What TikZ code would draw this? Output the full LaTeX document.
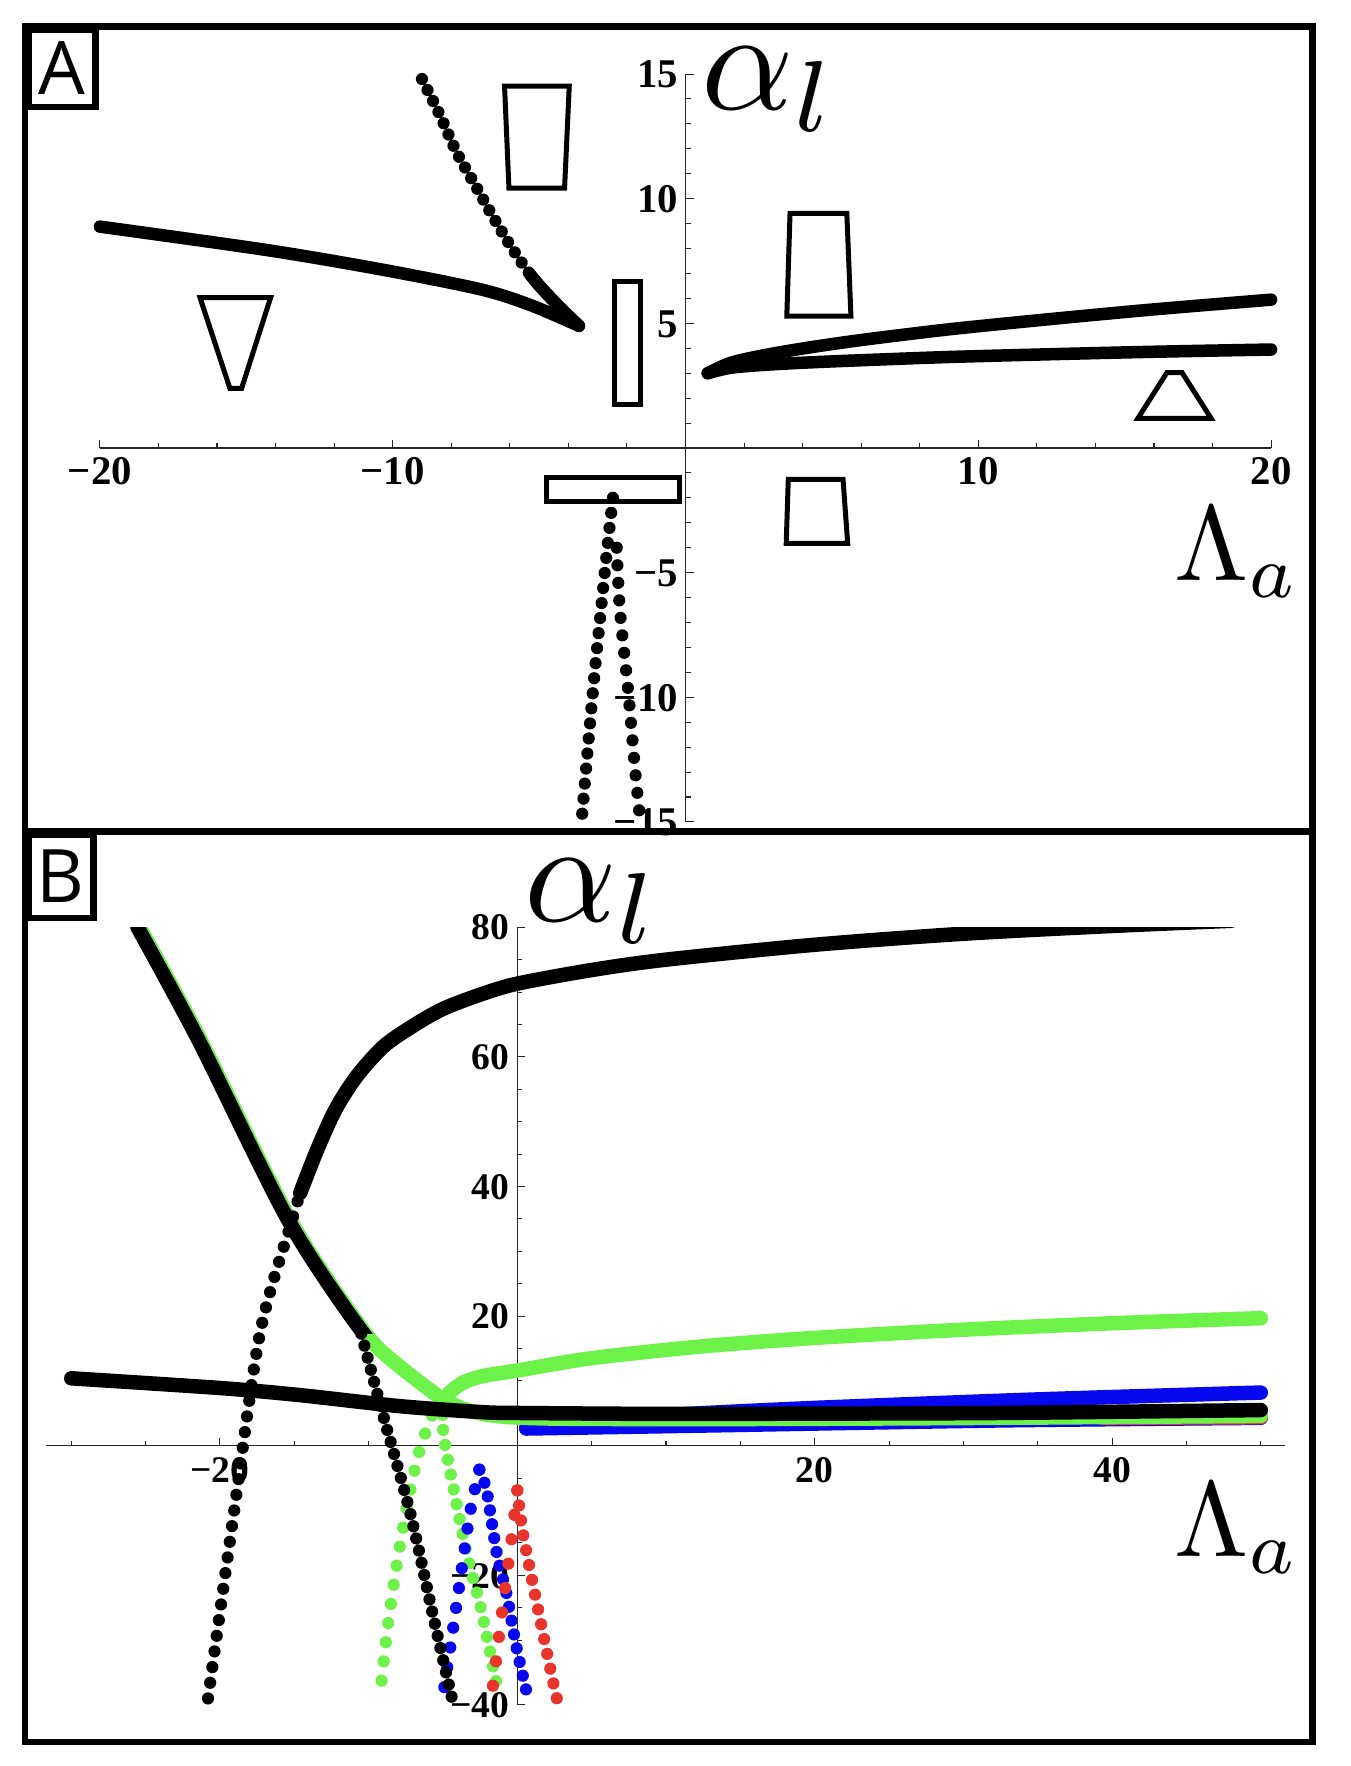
\documentclass[tikz,border=0pt]{standalone}
\usepackage{graphicx}
\usepackage[no-math]{fontspec}
\newfontfamily\tickfont{Liberation Serif}
\newfontfamily\panelfont{Open Sans}
\usetikzlibrary{positioning}
\definecolor{plotgreen}{RGB}{108,242,72}
\definecolor{plotblue}{RGB}{8,8,238}
\definecolor{plotred}{RGB}{232,52,42}

\begin{document}
\begin{tikzpicture}[
  frameline/.style={line width=0.65mm},
  axisline/.style={line width=0.3pt, black!85},
  panellabel/.style={draw, fill=white, line width=0.65mm, inner sep=0pt, anchor=north west, font=\panelfont\fontsize{21}{21}\selectfont},
  ticklblA/.style={inner sep=0pt, font=\tickfont\bfseries\fontsize{11.6}{12}\selectfont},
  ticklblB/.style={inner sep=0pt, font=\tickfont\bfseries\fontsize{10.7}{11}\selectfont},
  alphalbl/.style={inner sep=0pt, anchor=base west},
  lambdalbl/.style={inner sep=0pt, anchor=base west},
  thickA/.style={line width=1.25mm, line cap=round, line join=round},
  dotsA/.style={line width=1.22mm, line cap=round, dash pattern=on 0pt off #1},
  thickB/.style={line width=1.45mm, line cap=round, line join=round},
  dotsB/.style={line width=1.22mm, line cap=round, dash pattern=on 0pt off #1},
  region/.style={line width=0.5mm, line join=miter}]
\useasboundingbox (0,0) rectangle (13.5,17.66);

\begin{scope}[shift={(6.855,13.18)}, x=0.2928cm, y=0.2493cm]
\draw[axisline] (-20,0) -- (20,0);
\draw[axisline] (0,-15) -- (0,15);
\foreach \t in {-20,-18,...,20} \draw[axisline] (\t,0) -- ++(0,0.05cm);
\foreach \t in {-20,-10,10,20} \draw[axisline] (\t,0) -- ++(0,0.08cm);
\foreach \t in {-15,...,15} \draw[axisline] (0,\t) -- ++(0.05cm,0);
\foreach \t in {-15,-10,...,15} \draw[axisline] (0,\t) -- ++(0.08cm,0);
\foreach \t/\s [count=\i] in {-20/−20,-10/−10,10/10,20/20}
  \node[ticklblA, anchor=base, yshift=-0.37cm] (xtickA\i) at (\t,0) {\s};
\foreach \t/\s [count=\i] in {-15/−15,-10/−10,-5/−5,5/5,10/10,15/15}
  \node[ticklblA, anchor=base east, xshift=-0.07cm, yshift=-0.138cm] (ytickA\i) at (0,\t) {\s};

\draw[thickA] plot[smooth] coordinates {(-20,8.88) (-14.3,7.94) (-10.43,7.17) (-7.02,6.37) (-5.31,5.74) (-3.64,4.9)};
\draw[dotsA=3.5pt] plot[smooth] coordinates {(-9.0,14.8) (-8.39,13.36) (-7.83,11.89) (-7.22,10.62) (-6.64,9.41) (-6.03,8.21) (-5.42,7.14) (-4.96,6.47)};
\draw[thickA] plot[smooth] coordinates {(-5.3,6.95) (-4.96,6.47) (-4.3,5.65) (-3.64,4.9)};
\draw[thickA] plot[smooth] coordinates {(0.76,3.0) (1.5,3.40) (2.5,3.68) (4,3.99) (6,4.33) (9,4.76) (12.45,5.17) (16,5.56) (20,5.95)};
\draw[thickA] plot[smooth] coordinates {(0.76,3.0) (1.5,3.21) (2.5,3.32) (4,3.42) (6,3.52) (9,3.65) (12.45,3.76) (16,3.86) (20,3.95)};
\draw[dotsA=4.3pt] plot[smooth] coordinates {(-2.48,-2.0) (-2.72,-4.56) (-3.15,-9.6) (-3.53,-14.7)};
\draw[dotsA=5pt] plot[smooth] coordinates {(-2.35,-4.0) (-2.24,-6.5) (-1.97,-9.6) (-1.73,-12.8) (-1.56,-14.8)};

\draw[region] (-6.18,14.52) -- (-3.97,14.52) -- (-4.13,10.42) -- (-6.03,10.42) -- cycle;
\draw[region] (-16.58,6.03) -- (-14.17,6.03) -- (-15.16,2.39) -- (-15.56,2.39) -- cycle;
\draw[region] (-2.41,6.66) rectangle (-1.52,1.76);
\draw[region] (-4.76,-1.20) rectangle (-0.22,-2.13);
\draw[region] (3.57,9.41) -- (5.51,9.41) -- (5.65,5.29) -- (3.46,5.29) -- cycle;
\draw[region] (3.51,-1.26) -- (5.38,-1.26) -- (5.54,-3.83) -- (3.44,-3.83) -- cycle;
\draw[region] (15.45,1.19) -- (17.95,1.19) -- (16.96,3.02) -- (16.44,3.02) -- cycle;
\end{scope}

\begin{scope}[shift={(5.173,3.203)}, x=0.1487cm, y=0.0648cm]
\draw[axisline] (-31.7,0) -- (51.6,0);
\draw[axisline] (0,-40) -- (0,80);
\foreach \t in {-30,-25,...,50} \draw[axisline] (\t,0) -- ++(0,0.05cm);
\foreach \t in {-20,20,40} \draw[axisline] (\t,0) -- ++(0,0.08cm);
\foreach \t in {-40,-35,...,80} \draw[axisline] (0,\t) -- ++(0.05cm,0);
\foreach \t in {-40,-20,20,40,60,80} \draw[axisline] (0,\t) -- ++(0.08cm,0);
\foreach \t/\s [count=\i] in {-20/−20,20/20,40/40}
  \node[ticklblB, anchor=base, yshift=-0.37cm] (xtickB\i) at (\t,0) {\s};
\foreach \t/\s [count=\i] in {-40/−40,-20/−20,20/20,40/40,60/60,80/80}
  \node[ticklblB, anchor=base east, xshift=-0.075cm, yshift=-0.127cm] (ytickB\i) at (0,\t) {\s};

\begin{scope}
\clip (-32,-40.3) rectangle (52,80);
\draw[dotsB=5.5pt, plotgreen] plot[smooth] coordinates {(-5.0,7.1) (-5.7,4.8) (-6.75,-2.2) (-7.9,-15.5) (-8.7,-27.7) (-9.2,-37.9)};
\draw[dotsB=4.3pt, plotgreen] plot[smooth] coordinates {(-5.0,7.1) (-4.97,1.9) (-4.4,-5.3) (-3.4,-16.6) (-2.4,-25.6) (-1.27,-38.2)};
\draw[dotsB=5.7pt, plotblue] plot[smooth] coordinates {(-2.55,-3.7) (-3.17,-10.2) (-3.7,-18.4) (-4.3,-27.9) (-5.0,-38.7)};
\draw[dotsB=4pt, plotblue] plot[smooth] coordinates {(-2.55,-3.7) (-2.05,-7.1) (-1.38,-16.6) (-0.71,-23.0) (-0.04,-31.3) (0.8,-39.7)};
\draw[dotsB=7pt, plotred] plot[smooth] coordinates {(0,-6.9) (-0.44,-15.3) (-1.05,-26.1) (-1.7,-38.2)};
\draw[dotsB=4.3pt, plotred] plot[smooth] coordinates {(0,-6.9) (0.4,-13.8) (1.41,-25.4) (2.4,-36.4) (2.8,-40.3)};

\draw[thickB, plotblue] plot[smooth] coordinates {(0.6,2.7) (2,3.34) (5,3.97) (8,4.45) (12.3,5.0) (20,5.83) (32.5,6.94) (40,7.51) (50,8.2)};
\draw[thickB, plotblue] plot[smooth] coordinates {(0.6,2.65) (12.3,3.1) (32.5,3.9) (50,4.3)};
\draw[thickB, plotred] (39.4,4.3) -- (50,4.4);
\draw[thickB, plotgreen] plot[smooth] coordinates {(-25.4,80) (-21.3,62.6) (-15.26,34.8) (-10.3,17.6) (-7.9,12.2) (-5.0,7.1)};
\draw[thickB, plotgreen] plot[smooth] coordinates {(-5.0,7.1) (-4.5,8.3) (-3.6,9.8) (-2.2,10.8) (0,11.6) (5,13.5) (12.3,15.3) (20,16.63) (30,17.9) (40,18.89) (50,19.68)};
\draw[thickB, plotgreen] plot[smooth] coordinates {(-5.0,7.1) (-3.5,5.6) (-1.5,4.6) (2,4.2) (10,4.1) (20,4.15) (32.5,4.3) (50,4.6)};
\draw[thickB] plot[smooth] coordinates {(-30,10.4) (-20,8.9) (-14.6,7.8) (-7.9,6.1) (-2.5,5.2) (0,5.05) (10,4.9) (20,4.95) (32.5,5.05) (50,5.5)};
\begin{scope}
\clip (-32,17.3) rectangle (-5,82);
\draw[thickB, xshift=-0.6pt] plot[smooth] coordinates {(-25.4,80) (-21.3,62.6) (-15.26,34.8) (-10.3,17.6) (-7.9,12.2) (-5.0,7.1)};
\end{scope}
\draw[thickB] plot[smooth] coordinates {(-14.6,39) (-13.4,46) (-12.2,52) (-10.8,57) (-9.0,61.6) (-7,64.8) (-5,67.4) (-2.5,69.6) (0,71.3) (5,73.4) (10,75.0) (20,77.3) (30,79.0) (40,80.2) (48,81)};
\draw[dotsB=4.5pt] plot[smooth] coordinates {(-20.8,-39) (-19.1,-11) (-17.3,17.4) (-15.15,34.8) (-14.6,39)};
\draw[dotsB=3.55pt] plot[smooth] coordinates {(-10.5,17.3) (-9.0,4.5) (-7.2,-10.4) (-5.6,-26.9) (-4.4,-38.9)};
\end{scope}
\end{scope}

\node[alphalbl] (alphaA) at (7.01,16.56) {\scalebox{4.1}{$\alpha_l$}};
\node[lambdalbl] (lambdaA) at (11.74,11.85) {\scalebox{3.04}{$\Lambda_a$}};
\node[alphalbl] (alphaB) at (5.24,8.44) {\scalebox{4.1}{$\alpha_l$}};
\node[lambdalbl] (lambdaB) at (11.74,2.09) {\scalebox{3.04}{$\Lambda_a$}};

\draw[frameline] (0.25,0.24) rectangle (13.127,17.393);
\draw[frameline] (0.25,9.343) -- (13.127,9.343);
\node[panellabel, minimum width=0.67cm, minimum height=0.77cm] (labelA) at (0.25,17.393) {A};
\node[panellabel, minimum width=0.65cm, minimum height=0.83cm] (labelB) at (0.25,9.343) {B};
\end{tikzpicture}
\end{document}
